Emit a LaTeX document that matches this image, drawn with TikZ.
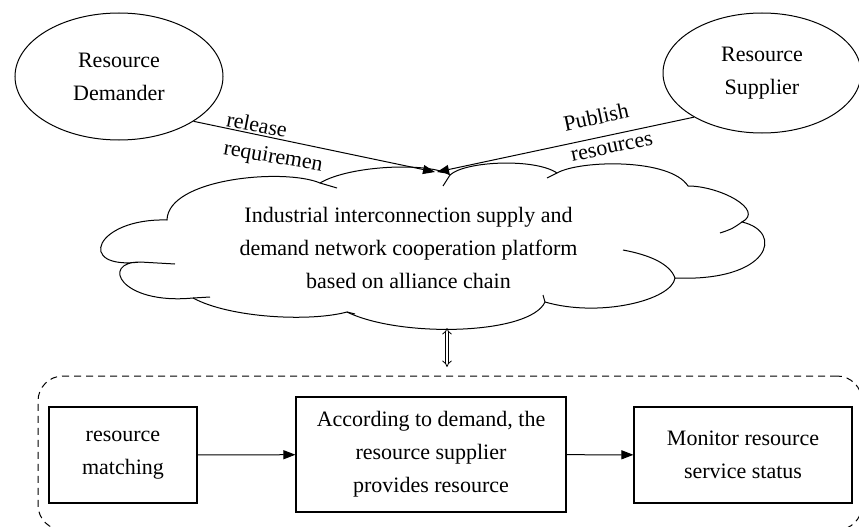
\documentclass[tikz,border=0pt]{standalone}
\usepackage{fontspec}
\setmainfont{Liberation Serif}
\usetikzlibrary{arrows.meta,shapes.geometric}
\begin{document}
\begin{tikzpicture}[x=1pt,y=1pt,
  every node/.style={font=\fontsize{22}{33}\selectfont},
  ln/.style={line width=1pt},
  ell/.style={draw,ellipse,line width=1pt,align=center,inner sep=0pt},
  procbox/.style={draw,rectangle,line width=1.1pt,align=center,inner sep=0pt},
  arr/.style={line width=1pt,-{Triangle[length=12pt,width=9pt]}},
  lbl/.style={inner sep=0pt}
]
\useasboundingbox (0,0) rectangle (859,-527);

% ellipses
\node[ell,minimum width=208,minimum height=127] (dem) at (119,-76.5) {Resource\\Demander};
\node[ell,minimum width=198,minimum height=120] (sup) at (762,-73) {Resource\\Supplier};

% cloud outline
\draw[ln]
  (167,-220) .. controls (168,-178) and (285,-168) .. (320,-183)
  .. controls (350,-165) and (430,-162) .. (450,-175)
  .. controls (465,-161) and (535,-158) .. (557,-173)
  .. controls (580,-160) and (670,-158) .. (688,-186)
  .. controls (720,-186) and (765,-210) .. (742,-222)
  .. controls (785,-232) and (770,-282) .. (675,-278)
  .. controls (672,-300) and (600,-318) .. (545,-302)
  .. controls (530,-335) and (400,-338) .. (347,-312)
  .. controls (310,-322) and (230,-318) .. (193,-298)
  .. controls (120,-305) and (100,-262) .. (140,-262)
  .. controls (75,-270) and (95,-218) .. cycle;
% cloud tails
\draw[ln] (320,-183) .. controls (328,-185) .. (337,-188);
\draw[ln] (450,-175) .. controls (446,-180) .. (443,-186);
\draw[ln] (557,-173) .. controls (552,-176) .. (547,-178);
\draw[ln] (742,-222) .. controls (732,-229) .. (720,-233);
\draw[ln] (623,-250) .. controls (650,-255) and (670,-264) .. (675,-278);
\draw[ln] (545,-302) .. controls (544,-298) .. (543,-295);
\draw[ln] (347,-312) .. controls (351,-313) .. (355,-314);
\draw[ln] (193,-298) .. controls (201,-297) .. (210,-297);
\draw[ln] (140,-262) .. controls (157,-263) .. (175,-264);

\node (plat) at (408.5,-247.5) [align=center,inner sep=0pt]
  {Industrial interconnection supply and\\demand network cooperation platform\\based on alliance chain};

% arrows into cloud
\coordinate (tipA) at (435,-172);
\coordinate (tipB) at (437,-172);
\draw[arr] (dem.-31) -- (tipA);
\draw[arr] (sup.213) -- (tipB);
\node[lbl,rotate=-11] (lrel) at (257,-124.5) {release};
\node[lbl,rotate=-10] (lreq) at (273,-158) {requiremen};
\node[lbl,rotate=12] (lpub) at (596,-117) {Publish};
\node[lbl,rotate=12] (lres) at (612,-148) {resources};

% group
\node[draw,dashed,dash pattern=on 7pt off 5pt,line width=1pt,rounded corners=25pt,
  minimum width=824,minimum height=154,inner sep=0pt] (grp) at (450,-453) {};
\coordinate (cb) at (447,-328);
\coordinate (gt) at (447,-367);
\draw[line width=0.8pt,double,double distance=2.5pt,{Implies}-{Implies}] (cb) -- (gt);

% process boxes
\node[procbox,minimum width=148,minimum height=96] (b1) at (123,-455) {resource\\matching};
\node[procbox,minimum width=270,minimum height=115] (b2) at (431,-454.5) {According to demand, the\\resource supplier\\provides resource};
\node[procbox,minimum width=218,minimum height=96] (b3) at (743,-455) {Monitor resource\\service status};
\draw[arr] (b1) -- (b2);
\draw[arr] (b2) -- (b3);
\end{tikzpicture}
\end{document}
